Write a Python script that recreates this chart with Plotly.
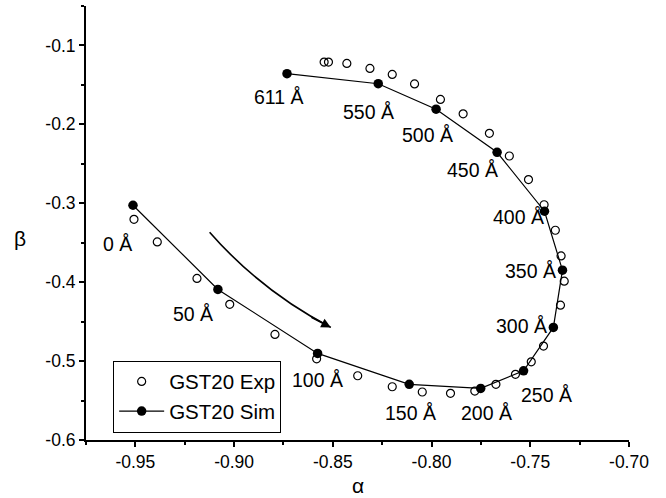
import plotly.graph_objects as go

# Simulated (filled) points
sim_alpha = [-0.9512, -0.9082, -0.8577, -0.8113, -0.7751, -0.7534, -0.7383,
             -0.7337, -0.7428, -0.7668, -0.7977, -0.8270, -0.8732]
sim_beta = [-0.3025, -0.4092, -0.4903, -0.5295, -0.5346, -0.5123, -0.4573,
            -0.3848, -0.3101, -0.2354, -0.1808, -0.1485, -0.1358]
sim_labels = ["0 Å", "50 Å", "100 Å", "150 Å", "200 Å", "250 Å", "300 Å",
              "350 Å", "400 Å", "450 Å", "500 Å", "550 Å", "611 Å"]
label_alpha = [-0.9591, -0.9209, -0.8577, -0.8106, -0.7722, -0.7416, -0.7542,
               -0.7500, -0.7562, -0.7795, -0.8022, -0.8317, -0.8773]
label_beta = [-0.3510, -0.4405, -0.5240, -0.5662, -0.5654, -0.5430, -0.4557,
              -0.3857, -0.3173, -0.2582, -0.2139, -0.1844, -0.1658]

# Experimental (open) points
exp_alpha = [-0.9507, -0.9389, -0.9188, -0.9022, -0.8793, -0.8582, -0.8374,
             -0.8199, -0.8047, -0.7904, -0.7781, -0.7674, -0.7575, -0.7495,
             -0.7433, -0.7347, -0.7328, -0.7344, -0.7373, -0.7430, -0.7509,
             -0.7606, -0.7707, -0.7840, -0.7955, -0.8086, -0.8199, -0.8312,
             -0.8429, -0.8522, -0.8544]
exp_beta = [-0.3203, -0.3490, -0.3953, -0.4281, -0.4662, -0.4971, -0.5186,
            -0.5325, -0.5392, -0.5409, -0.5380, -0.5295, -0.5168, -0.5009,
            -0.4810, -0.4291, -0.3987, -0.3667, -0.3342, -0.3019, -0.2700,
            -0.2401, -0.2114, -0.1867, -0.1684, -0.1487, -0.1367, -0.1291,
            -0.1228, -0.1211, -0.1211]

x_ticks = [-0.95, -0.90, -0.85, -0.80, -0.75, -0.70]
x_ticktext = ["-0.95", "-0.90", "-0.85", "-0.80", "-0.75", "-0.70"]
x_minor = [-0.975, -0.925, -0.875, -0.825, -0.775, -0.725]
y_ticks = [-0.6, -0.5, -0.4, -0.3, -0.2, -0.1]
y_ticktext = ["-0.6", "-0.5", "-0.4", "-0.3", "-0.2", "-0.1"]
y_minor = [-0.55, -0.45, -0.35, -0.25, -0.15, -0.05]

# arrow (start, control, end) in data units
arrow_start = (-0.9124, -0.3367)
arrow_ctrl = (-0.8862, -0.4114)
arrow_end = (-0.8510, -0.4573)
arrow_tail = (-0.8616, -0.4434)

FONT = "Arial, Liberation Sans, sans-serif"

fig = go.Figure()
fig.add_trace(go.Scatter(
    x=exp_alpha, y=exp_beta, mode="markers", name="GST20 Exp",
    marker=dict(symbol="circle-open", size=8, color="black", line=dict(width=1.2, color="black")),
))
fig.add_trace(go.Scatter(
    x=sim_alpha, y=sim_beta, mode="lines+markers", name="GST20 Sim",
    line=dict(color="black", width=1.2),
    marker=dict(symbol="circle", size=9.5, color="black"),
))

for lx, ly, t in zip(label_alpha, label_beta, sim_labels):
    fig.add_annotation(x=lx, y=ly, text=t, showarrow=False,
                       font=dict(family=FONT, size=19.5, color="black"),
                       xanchor="center", yanchor="middle")

fig.add_shape(type="path",
              path=f"M {arrow_start[0]},{arrow_start[1]} Q {arrow_ctrl[0]},{arrow_ctrl[1]} {arrow_end[0]},{arrow_end[1]}",
              line=dict(color="black", width=1.6), xref="x", yref="y")
fig.add_annotation(x=arrow_end[0], y=arrow_end[1], ax=arrow_tail[0], ay=arrow_tail[1],
                   xref="x", yref="y", axref="x", ayref="y", text="",
                   showarrow=True, arrowhead=2, arrowsize=1.2, arrowwidth=1.6, arrowcolor="black")

fig.add_annotation(x=0.5, y=-0.105, xref="paper", yref="paper", text="α", showarrow=False,
                   font=dict(family=FONT, size=21, color="black"), yanchor="middle")
fig.add_annotation(x=-0.122, y=0.465, xref="paper", yref="paper", text="β", showarrow=False,
                   font=dict(family=FONT, size=21, color="black"), xanchor="center")

axis_common = dict(showline=True, linecolor="black", linewidth=2, ticks="outside",
                   ticklen=5, tickwidth=1.5, tickcolor="black", showgrid=False, zeroline=False,
                   tickfont=dict(family=FONT, size=17.5, color="black"))
fig.update_xaxes(range=[-0.975, -0.70], tickmode="array", tickvals=x_ticks, ticktext=x_ticktext,
                 minor=dict(tickmode="array", tickvals=x_minor, ticks="outside", ticklen=3,
                            tickcolor="black", tickwidth=1.5),
                 **axis_common)
fig.update_yaxes(range=[-0.6, -0.05], tickmode="array", tickvals=y_ticks, ticktext=y_ticktext,
                 minor=dict(tickmode="array", tickvals=y_minor, ticks="outside", ticklen=3,
                            tickcolor="black", tickwidth=1.5),
                 ticklabelstandoff=0,
                 **axis_common)

fig.update_layout(
    width=666, height=498,
    margin=dict(l=86, r=37, t=6, b=58),
    paper_bgcolor="white", plot_bgcolor="white",
    showlegend=True,
    legend=dict(x=0.05, y=0.183, xanchor="left", yanchor="top",
                bordercolor="black", borderwidth=1, bgcolor="white",
                font=dict(family=FONT, size=20.5, color="black"),
                tracegroupgap=0, itemwidth=45),
    font=dict(family=FONT, color="black"),
)

fig.write_html("out.html")
